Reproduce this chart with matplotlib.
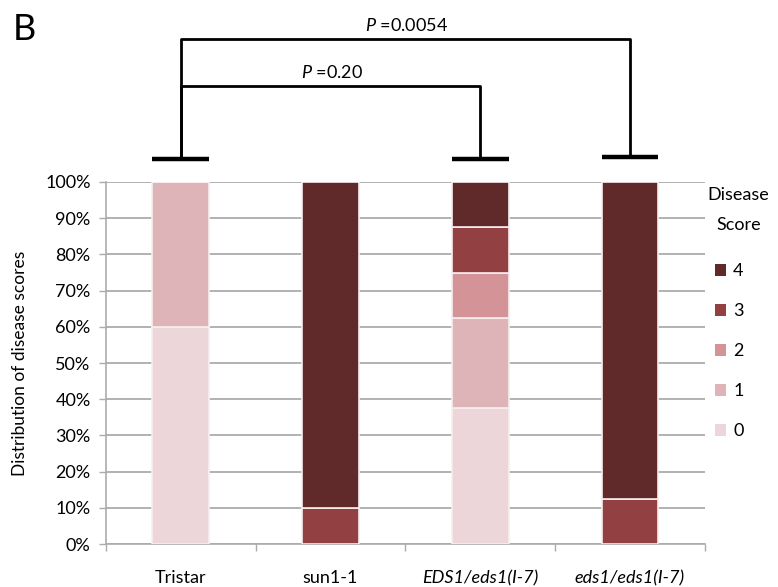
import numpy as np
import matplotlib.pyplot as plt
from matplotlib.patches import Patch

plt.rcParams["font.family"] = ["Lato", "DejaVu Sans"]
plt.rcParams["mathtext.fontset"] = "custom"
plt.rcParams["mathtext.rm"] = "Lato"
plt.rcParams["mathtext.it"] = "Lato:italic"

categories = ["Tristar", "sun1-1", "EDS1/eds1(I-7)", "eds1/eds1(I-7)"]
scores = ["0", "1", "2", "3", "4"]
# percent of plants per disease score, per line
score0 = [60.0, 0.0, 37.5, 0.0]
score1 = [40.0, 0.0, 25.0, 0.0]
score2 = [0.0, 0.0, 12.5, 0.0]
score3 = [0.0, 10.0, 12.5, 12.5]
score4 = [0.0, 90.0, 12.5, 87.5]
score_colors = ["#edd6d9", "#dfb4b8", "#d49497", "#934043", "#612a2a"]

p_labels = ["0.20", "0.0054"]
p_pairs = [(0, 2), (0, 3)]

fig = plt.figure(figsize=(7.78, 5.87), dpi=100)
ax = fig.add_axes([0.136, 0.073, 0.770, 0.617])

x = np.arange(len(categories))
bottom = np.zeros(len(categories))
for vals, color in zip([score0, score1, score2, score3, score4], score_colors):
    vals = np.array(vals)
    ax.bar(x, vals, width=0.38, bottom=bottom, color=color,
           edgecolor="#f8eeee", linewidth=1.2, zorder=3)
    bottom += vals

ax.set_xlim(-0.5, 3.5)
ax.set_ylim(0, 100)
ax.set_yticks(np.arange(0, 101, 10))
ax.set_yticklabels([f"{v}%" for v in range(0, 101, 10)], fontsize=13)
ax.yaxis.grid(True, color="#ababab", linewidth=1.3, zorder=0)
ax.set_xticks([-0.5, 0.5, 1.5, 2.5, 3.5])
ax.set_xticklabels([])
ax.tick_params(axis="x", length=5, color="#ababab", width=1)
ax.tick_params(axis="y", length=5, color="#ababab", width=1, pad=6)
for i, name in enumerate(categories):
    style = "italic" if "eds1" in name else "normal"
    ax.text(i, -7.2, name, ha="center", va="top", fontsize=13, fontstyle=style)
for s in ["top", "right"]:
    ax.spines[s].set_visible(False)
for s in ["left", "bottom"]:
    ax.spines[s].set_color("#ababab")
    ax.spines[s].set_linewidth(1.2)
ax.set_ylabel("Distribution of disease scores", fontsize=12.5, labelpad=12)

# significance brackets
tee_y = {0: 106.4, 2: 106.4, 3: 107.0}
for xi, ty in tee_y.items():
    ax.plot([xi - 0.19, xi + 0.19], [ty, ty], color="black", lw=3.2,
            solid_capstyle="butt", clip_on=False)
bracket_y = [126.6, 139.6]
text_y = [130.2, 143.2]
for (a, b), by, ty, lab in zip(p_pairs, bracket_y, text_y, p_labels):
    ax.plot([a, a, b, b], [tee_y[a], by, by, tee_y[b]],
            color="black", lw=2, clip_on=False)
    ax.text((a + b) / 2 + 0.01, ty, r"$\mathit{P}$ =" + lab, ha="center",
            va="center", fontsize=13)

fig.text(0.016, 0.950, "B", fontsize=26, ha="left", va="center")

# legend
fig.text(0.949, 0.667, "Disease", fontsize=13, ha="center", va="center")
fig.text(0.949, 0.616, "Score", fontsize=13, ha="center", va="center")
handles = [Patch(facecolor=c, edgecolor="none") for c in score_colors[::-1]]
ax.legend(handles, scores[::-1], loc="upper left",
          bbox_to_anchor=(0.99, 0.82), frameon=False, fontsize=13,
          handlelength=0.6, handleheight=0.6,
          handletextpad=0.4, labelspacing=1.33)

fig.savefig("out.png", dpi=100)
